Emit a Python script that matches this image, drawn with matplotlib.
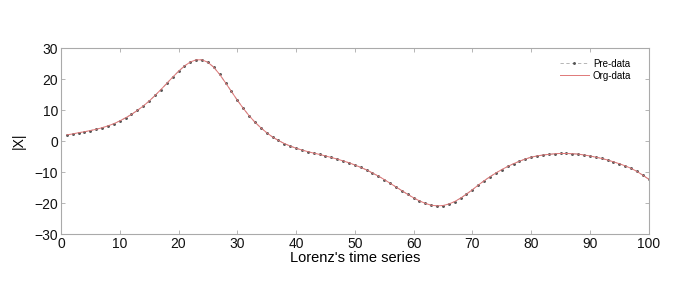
import matplotlib
matplotlib.use("Agg")
import matplotlib.pyplot as plt
import numpy as np

plt.rcParams['font.family'] = ['Liberation Sans', 'DejaVu Sans']

t = list(range(1, 101))
org_data = [
    2.0, 2.3, 2.7, 3.0, 3.4, 3.8, 4.3, 4.9, 5.6, 6.5,
    7.5, 8.6, 9.9, 11.3, 12.9, 14.7, 16.6, 18.6, 20.6, 22.5,
    24.2, 25.5, 26.2, 26.2, 25.4, 23.8, 21.5, 18.8, 16.0, 13.2,
    10.6, 8.2, 6.1, 4.3, 2.7, 1.3, 0.2, -0.8, -1.6, -2.3,
    -2.9, -3.4, -3.9, -4.3, -4.8, -5.3, -5.8, -6.4, -7.0, -7.7,
    -8.5, -9.3, -10.3, -11.3, -12.4, -13.6, -14.8, -16.0, -17.2, -18.3,
    -19.3, -20.1, -20.7, -20.9, -20.8, -20.3, -19.5, -18.4, -17.1, -15.7,
    -14.2, -12.8, -11.5, -10.3, -9.2, -8.2, -7.3, -6.5, -5.8, -5.2,
    -4.8, -4.5, -4.3, -4.1, -4.0, -4.0, -4.1, -4.2, -4.5, -4.8,
    -5.2, -5.6, -6.1, -6.7, -7.3, -8.0, -8.8, -9.8, -11.0, -12.3,
]
pre_data = list(org_data)

x_ticks = [0, 10, 20, 30, 40, 50, 60, 70, 80, 90, 100]
y_ticks = [-30, -20, -10, 0, 10, 20, 30]

fig = plt.figure(figsize=(6.85, 2.81), dpi=100)
ax = fig.add_axes([0.089, 0.167, 0.858, 0.662])

ax.plot(t, pre_data, linestyle=(0, (4, 3)), color='#aaaaaa', linewidth=0.6,
        marker='.', markersize=2.2, markerfacecolor='#555555',
        markeredgecolor='#555555', label='Pre-data')
ax.plot(t, org_data, color='#e07878', linewidth=0.7, label='Org-data')

ax.set_xlim(0, 100)
ax.set_ylim(-30, 30)
ax.set_xticks(x_ticks)
ax.set_yticks(y_ticks)
ax.tick_params(direction='in', top=True, right=True, length=3, width=0.6,
               colors='#aaaaaa', labelcolor='#111111', labelsize=10, pad=2)
for s in ax.spines.values():
    s.set_color('#aaaaaa')
    s.set_linewidth(0.8)

ax.set_xlabel("Lorenz's time series", fontsize=10.5, labelpad=0)
ax.set_ylabel('|X|', fontsize=10, labelpad=6)

ax.legend(loc='upper right', frameon=False, fontsize=7, handlelength=3,
          numpoints=1, bbox_to_anchor=(0.985, 0.99), labelspacing=0.2,
          handletextpad=0.4)

fig.savefig('out.png', dpi=100)
